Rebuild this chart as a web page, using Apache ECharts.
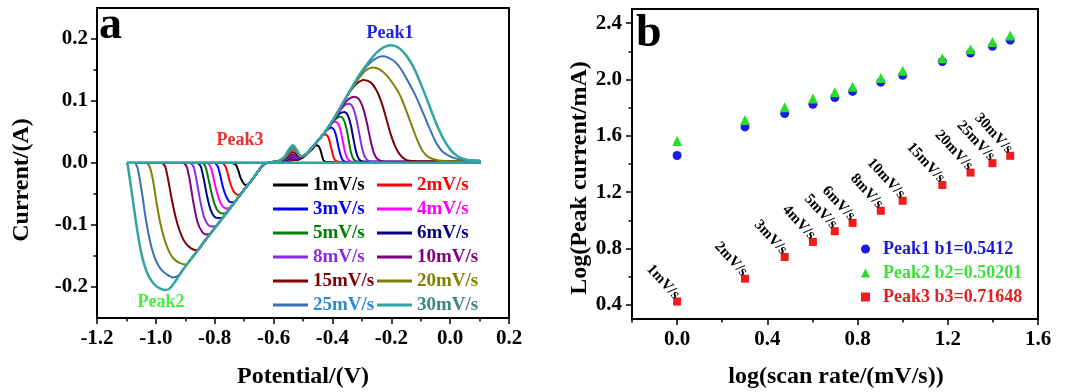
<!DOCTYPE html>
<html>
<head>
<meta charset="utf-8">
<script src="https://cdn.jsdelivr.net/npm/echarts@6/dist/echarts.min.js"></script>
<style>html,body{margin:0;padding:0;background:#fff}#c{width:1068px;height:392px}</style>
</head>
<body>
<div id="c"></div>
<script>
// ---------- data ----------
const rates = ['1mV/s','2mV/s','3mV/s','4mV/s','5mV/s','6mV/s','8mV/s','10mV/s','15mV/s','20mV/s','25mV/s','30mV/s'];
const lineColors = ['#000000','#ff0000','#0000ff','#ff00ff','#008000','#000080','#8a2be2','#800080','#800000','#808000','#3b6fb6','#33a3a3'];
const legendTextColors = ['#000000','#ff0000','#0000ff','#ff00ff','#008000','#000080','#8a2be2','#800080','#800000','#808000','#2e8bd0','#3f8585'];

const cv1 = [[-0.740,0.000],[-0.728,-0.003],[-0.720,-0.012],[-0.712,-0.024],[-0.703,-0.032],[-0.695,-0.0355],[-0.686,-0.034],[-0.670,-0.025],[-0.650,-0.012],[-0.635,-0.003],[-0.615,0.001],[-0.590,0.002],[-0.555,0.003],[-0.535,0.0045],[-0.518,0.005],[-0.500,0.009],[-0.482,0.016],[-0.467,0.023],[-0.456,0.0285],[-0.447,0.027],[-0.440,0.020],[-0.435,0.011],[-0.430,0.004],[-0.420,0.0015],[-0.300,0.001],[0.100,0.002],[0.100,0.000],[-0.740,0.000]];
const cv2 = [[-0.775,0.000],[-0.765,-0.004],[-0.757,-0.015],[-0.748,-0.031],[-0.738,-0.044],[-0.727,-0.0505],[-0.716,-0.0515],[-0.700,-0.043],[-0.670,-0.025],[-0.650,-0.012],[-0.635,-0.003],[-0.615,0.001],[-0.590,0.002],[-0.555,0.003],[-0.535,0.0055],[-0.518,0.006],[-0.503,0.010],[-0.488,0.015],[-0.465,0.027],[-0.445,0.038],[-0.432,0.045],[-0.424,0.046],[-0.416,0.043],[-0.409,0.034],[-0.402,0.020],[-0.395,0.008],[-0.386,0.003],[-0.360,0.0015],[0.100,0.002],[0.100,0.000],[-0.775,0.000]];
const cv3 = [[-0.800,0.000],[-0.790,-0.005],[-0.782,-0.018],[-0.773,-0.037],[-0.763,-0.052],[-0.752,-0.0615],[-0.741,-0.0635],[-0.730,-0.0615],[-0.700,-0.043],[-0.670,-0.025],[-0.650,-0.012],[-0.635,-0.003],[-0.615,0.001],[-0.590,0.002],[-0.555,0.003],[-0.535,0.007],[-0.518,0.0068],[-0.503,0.010],[-0.488,0.015],[-0.460,0.030],[-0.435,0.044],[-0.418,0.053],[-0.405,0.0573],[-0.395,0.054],[-0.387,0.043],[-0.380,0.027],[-0.372,0.012],[-0.364,0.004],[-0.350,0.0015],[0.100,0.002],[0.100,0.000],[-0.800,0.000]];
const cv4 = [[-0.825,0.000],[-0.815,-0.005],[-0.806,-0.020],[-0.796,-0.041],[-0.785,-0.059],[-0.773,-0.070],[-0.761,-0.0733],[-0.748,-0.0725],[-0.720,-0.055],[-0.700,-0.043],[-0.670,-0.025],[-0.650,-0.012],[-0.635,-0.003],[-0.615,0.001],[-0.590,0.002],[-0.555,0.004],[-0.535,0.0085],[-0.518,0.0075],[-0.503,0.010],[-0.488,0.015],[-0.460,0.030],[-0.430,0.047],[-0.410,0.060],[-0.398,0.0655],[-0.389,0.0667],[-0.379,0.062],[-0.371,0.050],[-0.363,0.031],[-0.355,0.014],[-0.346,0.005],[-0.330,0.002],[0.100,0.002],[0.100,0.000],[-0.825,0.000]];
const cv5 = [[-0.842,0.000],[-0.832,-0.005],[-0.823,-0.022],[-0.812,-0.046],[-0.800,-0.067],[-0.788,-0.078],[-0.775,-0.0813],[-0.762,-0.081],[-0.740,-0.0677],[-0.700,-0.043],[-0.670,-0.025],[-0.650,-0.012],[-0.635,-0.003],[-0.615,0.001],[-0.590,0.002],[-0.555,0.0045],[-0.535,0.0095],[-0.518,0.008],[-0.503,0.010],[-0.488,0.015],[-0.460,0.030],[-0.430,0.047],[-0.400,0.066],[-0.385,0.0725],[-0.372,0.0745],[-0.362,0.070],[-0.353,0.057],[-0.345,0.037],[-0.337,0.017],[-0.328,0.006],[-0.310,0.002],[0.100,0.002],[0.100,0.000],[-0.842,0.000]];
const cv6 = [[-0.858,0.000],[-0.848,-0.005],[-0.838,-0.024],[-0.827,-0.051],[-0.815,-0.074],[-0.802,-0.086],[-0.789,-0.0887],[-0.776,-0.0885],[-0.750,-0.074],[-0.700,-0.043],[-0.670,-0.025],[-0.650,-0.012],[-0.635,-0.003],[-0.615,0.001],[-0.590,0.002],[-0.555,0.005],[-0.535,0.0105],[-0.518,0.0085],[-0.503,0.010],[-0.488,0.015],[-0.460,0.030],[-0.430,0.047],[-0.400,0.066],[-0.380,0.078],[-0.360,0.0822],[-0.348,0.077],[-0.338,0.062],[-0.329,0.040],[-0.320,0.019],[-0.311,0.007],[-0.295,0.002],[0.100,0.002],[0.100,0.000],[-0.858,0.000]];
const cv8 = [[-0.882,0.000],[-0.872,-0.006],[-0.862,-0.027],[-0.850,-0.059],[-0.837,-0.086],[-0.824,-0.099],[-0.810,-0.1023],[-0.797,-0.1020],[-0.770,-0.086],[-0.750,-0.074],[-0.700,-0.043],[-0.670,-0.025],[-0.650,-0.012],[-0.635,-0.003],[-0.615,0.001],[-0.590,0.002],[-0.557,0.006],[-0.535,0.0117],[-0.518,0.009],[-0.504,0.010],[-0.488,0.015],[-0.460,0.030],[-0.430,0.047],[-0.400,0.066],[-0.372,0.086],[-0.356,0.094],[-0.343,0.0957],[-0.332,0.091],[-0.321,0.076],[-0.311,0.053],[-0.301,0.028],[-0.291,0.011],[-0.280,0.004],[-0.260,0.002],[0.100,0.002],[0.100,0.000],[-0.882,0.000]];
const cv10 = [[-0.905,0.000],[-0.895,-0.006],[-0.884,-0.030],[-0.872,-0.065],[-0.858,-0.096],[-0.844,-0.110],[-0.830,-0.1153],[-0.815,-0.1140],[-0.800,-0.105],[-0.750,-0.074],[-0.700,-0.043],[-0.670,-0.025],[-0.650,-0.012],[-0.635,-0.003],[-0.615,0.001],[-0.590,0.002],[-0.558,0.007],[-0.535,0.0138],[-0.519,0.011],[-0.505,0.010],[-0.488,0.015],[-0.460,0.030],[-0.430,0.047],[-0.400,0.066],[-0.370,0.089],[-0.348,0.102],[-0.326,0.107],[-0.310,0.103],[-0.296,0.089],[-0.283,0.065],[-0.271,0.038],[-0.259,0.016],[-0.246,0.006],[-0.220,0.002],[0.100,0.002],[0.100,0.000],[-0.905,0.000]];
const cv15 = [[-0.978,0.000],[-0.968,-0.006],[-0.957,-0.030],[-0.945,-0.061],[-0.933,-0.087],[-0.920,-0.108],[-0.906,-0.124],[-0.890,-0.134],[-0.873,-0.1395],[-0.857,-0.1405],[-0.840,-0.129],[-0.800,-0.105],[-0.750,-0.074],[-0.700,-0.043],[-0.670,-0.025],[-0.650,-0.012],[-0.635,-0.003],[-0.615,0.001],[-0.590,0.002],[-0.560,0.007],[-0.547,0.013],[-0.535,0.0178],[-0.521,0.014],[-0.506,0.010],[-0.488,0.015],[-0.460,0.030],[-0.430,0.047],[-0.400,0.068],[-0.370,0.092],[-0.345,0.112],[-0.320,0.127],[-0.294,0.134],[-0.270,0.130],[-0.250,0.117],[-0.232,0.096],[-0.216,0.070],[-0.201,0.045],[-0.186,0.026],[-0.170,0.013],[-0.150,0.005],[-0.120,0.003],[0.100,0.002],[0.100,0.000],[-0.978,0.000]];
const cv20 = [[-1.030,0.000],[-1.020,-0.007],[-1.009,-0.030],[-0.999,-0.060],[-0.990,-0.085],[-0.980,-0.107],[-0.968,-0.127],[-0.955,-0.143],[-0.940,-0.154],[-0.920,-0.161],[-0.898,-0.1637],[-0.880,-0.155],[-0.850,-0.136],[-0.800,-0.105],[-0.750,-0.074],[-0.700,-0.043],[-0.670,-0.025],[-0.650,-0.012],[-0.635,-0.003],[-0.615,0.001],[-0.590,0.002],[-0.562,0.008],[-0.548,0.015],[-0.535,0.0218],[-0.521,0.017],[-0.507,0.011],[-0.490,0.014],[-0.460,0.030],[-0.430,0.047],[-0.400,0.068],[-0.370,0.092],[-0.340,0.116],[-0.310,0.137],[-0.285,0.150],[-0.262,0.154],[-0.240,0.151],[-0.215,0.141],[-0.190,0.125],[-0.170,0.109],[-0.148,0.083],[-0.127,0.056],[-0.109,0.034],[-0.093,0.019],[-0.072,0.009],[-0.040,0.004],[-0.010,0.003],[0.100,0.002],[0.100,0.000],[-1.030,0.000]];
const cv25 = [[-1.070,0.000],[-1.062,-0.008],[-1.053,-0.031],[-1.044,-0.058],[-1.036,-0.085],[-1.025,-0.114],[-1.013,-0.139],[-1.000,-0.157],[-0.985,-0.170],[-0.965,-0.179],[-0.942,-0.1845],[-0.925,-0.182],[-0.910,-0.173],[-0.850,-0.136],[-0.800,-0.105],[-0.750,-0.074],[-0.700,-0.043],[-0.670,-0.025],[-0.650,-0.012],[-0.635,-0.003],[-0.615,0.001],[-0.590,0.002],[-0.563,0.009],[-0.549,0.017],[-0.535,0.0255],[-0.521,0.019],[-0.507,0.011],[-0.490,0.014],[-0.460,0.030],[-0.430,0.047],[-0.400,0.068],[-0.370,0.092],[-0.340,0.117],[-0.310,0.140],[-0.280,0.158],[-0.255,0.168],[-0.232,0.172],[-0.210,0.170],[-0.185,0.162],[-0.165,0.150],[-0.148,0.136],[-0.120,0.111],[-0.093,0.082],[-0.070,0.056],[-0.049,0.034],[-0.025,0.018],[0.005,0.0095],[0.040,0.005],[0.070,0.004],[0.100,0.003],[0.100,0.000],[-1.070,0.000]];
const cv30 = [[-1.098,0.001],[-1.094,-0.008],[-1.088,-0.028],[-1.078,-0.060],[-1.066,-0.100],[-1.053,-0.137],[-1.040,-0.163],[-1.025,-0.182],[-1.005,-0.196],[-0.985,-0.2025],[-0.965,-0.205],[-0.948,-0.200],[-0.900,-0.167],[-0.850,-0.136],[-0.800,-0.105],[-0.750,-0.074],[-0.700,-0.043],[-0.670,-0.025],[-0.650,-0.012],[-0.635,-0.003],[-0.615,0.001],[-0.590,0.002],[-0.565,0.009],[-0.550,0.020],[-0.535,0.0287],[-0.522,0.022],[-0.508,0.011],[-0.490,0.014],[-0.460,0.030],[-0.430,0.047],[-0.400,0.068],[-0.370,0.092],[-0.340,0.117],[-0.310,0.141],[-0.280,0.161],[-0.250,0.178],[-0.225,0.187],[-0.200,0.190],[-0.175,0.186],[-0.150,0.174],[-0.125,0.155],[-0.100,0.128],[-0.075,0.098],[-0.050,0.067],[-0.025,0.041],[0.000,0.022],[0.025,0.011],[0.050,0.006],[0.075,0.004],[0.100,0.004],[0.100,0.001],[-0.500,0.0005],[-1.098,0.001]];
const cvCurves = [cv1, cv2, cv3, cv4, cv5, cv6, cv8, cv10, cv15, cv20, cv25, cv30];

// panel b
const logRate = [0, 0.301, 0.477, 0.602, 0.699, 0.778, 0.903, 1.0, 1.176, 1.301, 1.398, 1.477];
const peak1 = [1.460, 1.663, 1.758, 1.824, 1.872, 1.915, 1.981, 2.029, 2.127, 2.188, 2.236, 2.279];
const peak2 = [1.563, 1.713, 1.803, 1.865, 1.910, 1.948, 2.010, 2.062, 2.150, 2.214, 2.266, 2.312];
const peak3 = [0.424, 0.586, 0.740, 0.847, 0.923, 0.982, 1.068, 1.139, 1.251, 1.339, 1.406, 1.458];
const peakNames = ['Peak1 b1=0.5412', 'Peak2 b2=0.50201', 'Peak3 b3=0.71648'];

// tick values
const aYLabels = [-0.2, -0.1, 0, 0.1, 0.2];
const aYMinor = [-0.15, -0.05, 0.05, 0.15];
const bXLabels = [0, 0.4, 0.8, 1.2, 1.6];
const bXMinor = [-0.2, 0.2, 0.6, 1.0, 1.4];
const bYLabels = [0.4, 0.8, 1.2, 1.6, 2.0, 2.4];
const bYMinor = [0.6, 1.0, 1.4, 1.8, 2.2];

// ---------- chart ----------
const FF = 'Liberation Serif';
const lbl = {fontFamily: FF, fontWeight: 'bold', fontSize: 21, color: '#000'};
const axLine = {show: true, onZero: false, lineStyle: {color: '#000', width: 2}};
const fmt1 = v => Number(v).toFixed(1);

function minorAxis(gridIndex, min, max, vals, isY) {
  return {type: 'value', gridIndex, min, max, position: isY ? 'left' : 'bottom',
    axisLine: {show: false, onZero: false}, axisLabel: {show: false}, splitLine: {show: false},
    axisTick: {show: true, inside: false, length: 3.5, customValues: vals, lineStyle: {color: '#000', width: 1.5}}};
}

const chart = echarts.init(document.getElementById('c'), null, {renderer: 'canvas'});

const cvSeries = rates.map((r, i) => ({
  type: 'line', name: r, xAxisIndex: 0, yAxisIndex: 0,
  data: cvCurves[i], symbol: 'none', showSymbol: false, smooth: 0.3,
  lineStyle: {color: lineColors[i], width: i === 11 ? 2.5 : 2},
  itemStyle: {color: lineColors[i]}, z: 2 + i, silent: true
}));

const scatterColors = ['#1c1ce6', '#22e022', '#ee1c1c'];
const scatterSymbols = ['circle', 'triangle', 'rect'];
const scatterSizes = [9, 10, 8];
const peakData = [peak1, peak2, peak3];
const scSeries = peakNames.map((n, k) => ({
  type: 'scatter', name: n, xAxisIndex: 1, yAxisIndex: 2,
  data: logRate.map((x, i) => [x, peakData[k][i]]),
  symbol: scatterSymbols[k], symbolSize: scatterSizes[k],
  itemStyle: {color: scatterColors[k], opacity: 1},
  label: k === 2 ? {show: true, formatter: p => rates[p.dataIndex], position: 'top', distance: 5,
    offset: [3, 3], rotate: -47, align: 'right', verticalAlign: 'middle',
    fontFamily: FF, fontWeight: 'bold', fontSize: 15, color: '#000'} : {show: false},
  silent: true, z: 5
}));

const legendCol1 = [0, 2, 4, 6, 8, 10];
const legendCol2 = [1, 3, 5, 7, 9, 11];
const legendBase = {orient: 'vertical', padding: 0, itemWidth: 35, itemHeight: 3, itemGap: 4, icon: 'rect', selectedMode: false,
  textStyle: {fontFamily: FF, fontWeight: 'bold', fontSize: 19, lineHeight: 20}};

chart.setOption({
  animation: false,
  backgroundColor: '#fff',
  grid: [
    {left: 97, top: 8, width: 412, height: 310, show: true, borderColor: '#000', borderWidth: 2, backgroundColor: 'transparent'},
    {left: 632, top: 9, width: 406, height: 310, show: true, borderColor: '#000', borderWidth: 2, backgroundColor: 'transparent'}
  ],
  xAxis: [
    {type: 'value', gridIndex: 0, min: -1.2, max: 0.2, interval: 0.2, axisLine: axLine,
      axisTick: {show: true, inside: false, length: 6, lineStyle: {color: '#000', width: 1.5}},
      minorTick: {show: true, splitNumber: 2, length: 3.5, lineStyle: {color: '#000', width: 1.5}},
      axisLabel: Object.assign({margin: 10, formatter: fmt1}, lbl), splitLine: {show: false}, minorSplitLine: {show: false}},
    {type: 'value', gridIndex: 1, min: -0.2, max: 1.6, axisLine: axLine,
      axisTick: {show: true, inside: false, length: 6, customValues: bXLabels, lineStyle: {color: '#000', width: 1.5}},
      axisLabel: Object.assign({margin: 10, customValues: bXLabels, formatter: fmt1}, lbl), splitLine: {show: false}},
    minorAxis(1, -0.2, 1.6, bXMinor, false)
  ],
  yAxis: [
    {type: 'value', gridIndex: 0, min: -0.25, max: 0.25, axisLine: axLine,
      axisTick: {show: true, inside: false, length: 6, customValues: aYLabels, lineStyle: {color: '#000', width: 1.5}},
      axisLabel: Object.assign({margin: 9, customValues: aYLabels, formatter: fmt1}, lbl), splitLine: {show: false}},
    minorAxis(0, -0.25, 0.25, aYMinor, true),
    {type: 'value', gridIndex: 1, min: 0.3, max: 2.5, axisLine: axLine,
      axisTick: {show: true, inside: false, length: 6, customValues: bYLabels, lineStyle: {color: '#000', width: 1.5}},
      axisLabel: Object.assign({margin: 10, customValues: bYLabels, formatter: fmt1}, lbl), splitLine: {show: false}},
    minorAxis(1, 0.3, 2.5, bYMinor, true)
  ],
  legend: [
    Object.assign({}, legendBase, {left: 273, top: 175,
      data: legendCol1.map(i => ({name: rates[i], textStyle: {color: legendTextColors[i]}}))}),
    Object.assign({}, legendBase, {left: 377, top: 175,
      data: legendCol2.map(i => ({name: rates[i], textStyle: {color: legendTextColors[i]}}))}),
    {orient: 'vertical', padding: 0, left: 861, top: 239, itemWidth: 9, itemHeight: 9, itemGap: 4, selectedMode: false,
      textStyle: {fontFamily: FF, fontWeight: 'bold', fontSize: 18, lineHeight: 20, padding: [0, 0, 0, 8]},
      data: peakNames.map((n, k) => ({name: n, textStyle: {color: ['#1a1ad6', '#3de03d', '#e02020'][k]}}))}
  ],
  graphic: [
    {type: 'text', x: 22, y: 180, rotation: Math.PI / 2, style: {text: 'Current/(A)', font: 'bold 24px "Liberation Serif"', fill: '#000', align: 'center', verticalAlign: 'middle'}},
    {type: 'text', x: 303, y: 377, style: {text: 'Potential/(V)', font: 'bold 24px "Liberation Serif"', fill: '#000', align: 'center', verticalAlign: 'middle'}},
    {type: 'text', x: 580, y: 178, rotation: Math.PI / 2, style: {text: 'Log(Peak current/mA)', font: 'bold 24px "Liberation Serif"', fill: '#000', align: 'center', verticalAlign: 'middle'}},
    {type: 'text', x: 836, y: 377, style: {text: 'log(scan rate/(mV/s))', font: 'bold 24px "Liberation Serif"', fill: '#000', align: 'center', verticalAlign: 'middle'}},
    {type: 'text', x: 99, y: 26, style: {text: 'a', font: 'bold 46px "Liberation Serif"', fill: '#000', align: 'left', verticalAlign: 'middle'}},
    {type: 'text', x: 636, y: 34, style: {text: 'b', font: 'bold 46px "Liberation Serif"', fill: '#000', align: 'left', verticalAlign: 'middle'}},
    {type: 'text', x: 390, y: 33, style: {text: 'Peak1', font: 'bold 18px "Liberation Serif"', fill: '#2020e0', align: 'center', verticalAlign: 'middle'}},
    {type: 'text', x: 240, y: 140, style: {text: 'Peak3', font: 'bold 18px "Liberation Serif"', fill: '#e83030', align: 'center', verticalAlign: 'middle'}},
    {type: 'text', x: 161, y: 302, style: {text: 'Peak2', font: 'bold 18px "Liberation Serif"', fill: '#3ef03e', align: 'center', verticalAlign: 'middle'}}
  ],
  series: cvSeries.concat(scSeries)
});
</script>
</body>
</html>
